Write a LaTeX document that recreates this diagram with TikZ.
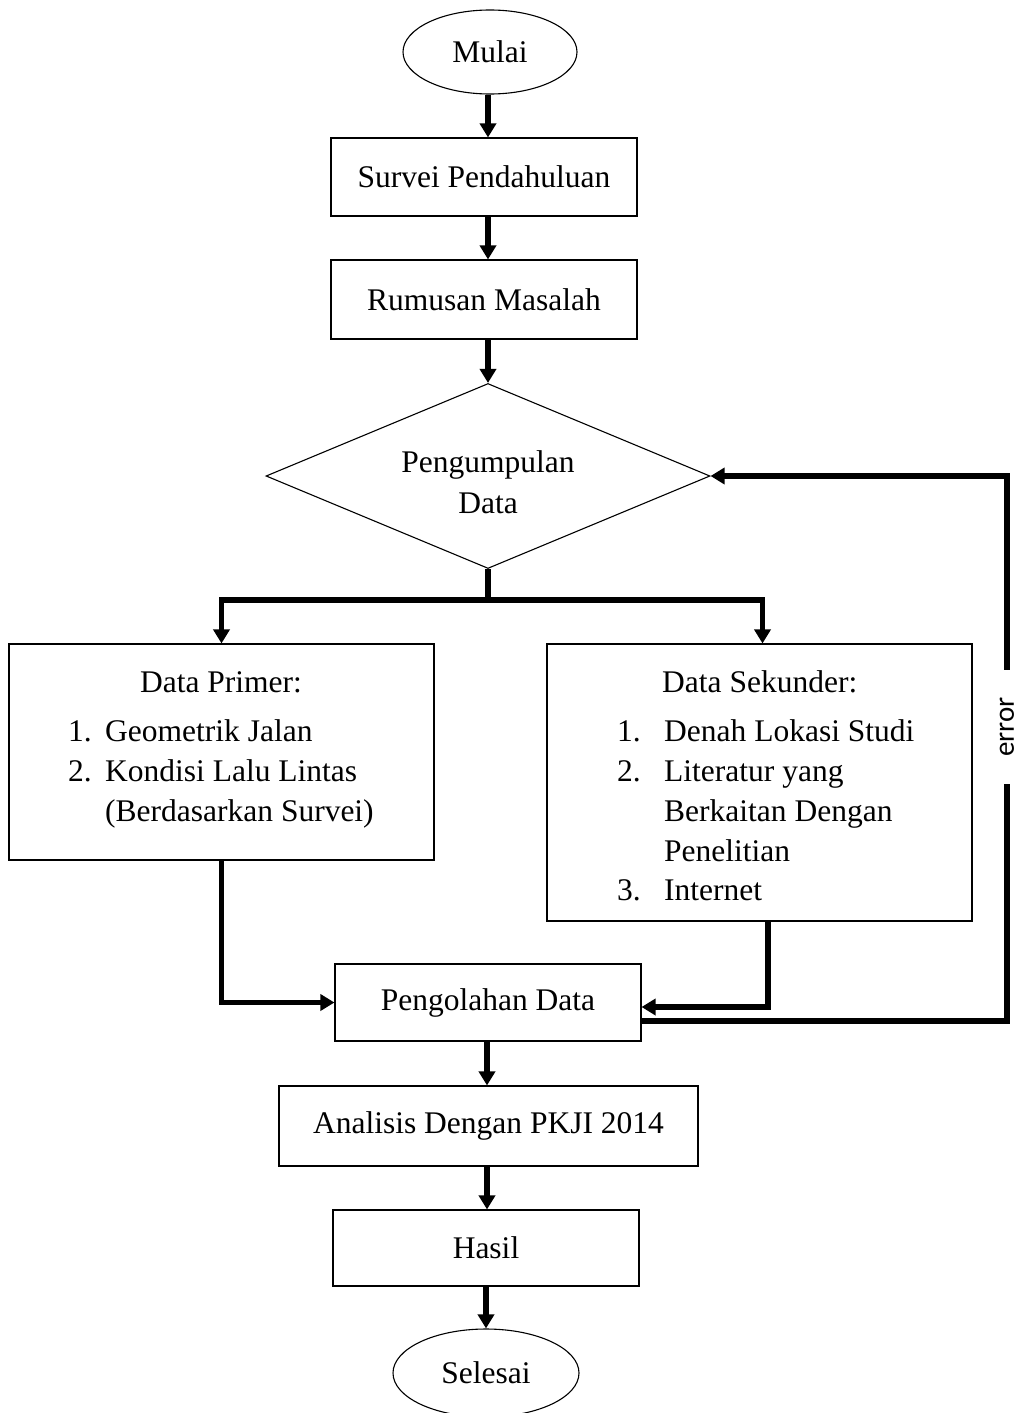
\documentclass[tikz,border=0pt]{standalone}
\usepackage{fontspec}
\setmainfont{Liberation Serif}
\newfontfamily\lblfont{Carlito}
\usetikzlibrary{shapes.geometric,arrows.meta}
\begin{document}
\begin{tikzpicture}[x=1pt,y=-1pt,
  txtfont/.style={font=\fontsize{31.5}{40.5}\selectfont},
  box/.style={draw=black, line width=1.1pt, rectangle, inner sep=0pt, txtfont},
  term/.style={draw=black, line width=1.1pt, ellipse, inner sep=0pt, txtfont},
  decision/.style={draw=black, line width=1.1pt, diamond, inner sep=0pt, align=center, txtfont},
  flow/.style={line width=5.2pt, -{Triangle[length=14pt,width=16pt]}},
  plainline/.style={line width=5.2pt},
  txt/.style={inner sep=0pt, txtfont},
]
\useasboundingbox (0,0) rectangle (1019,1413);

% shapes
\node[term, minimum width=174pt, minimum height=84pt] (mulai) at (490,52) {Mulai};
\node[box, minimum width=306pt, minimum height=78pt] (survei) at (484,177) {Survei Pendahuluan};
\node[box, minimum width=306pt, minimum height=79pt] (rumusan) at (484,299.5) {Rumusan Masalah};
\node[decision, minimum width=444pt, minimum height=185pt] (peng) at (488,476) {};
\node[txt, align=center] (pengtext) at (488,482) {Pengumpulan\\Data};
\node[box, minimum width=425pt, minimum height=216pt] (primer) at (221.5,752) {};
\node[box, minimum width=425pt, minimum height=277pt] (sekunder) at (759.5,782.5) {};
\node[box, minimum width=306pt, minimum height=77pt] (pengolahan) at (488,1002.5) {Pengolahan Data};
\node[box, minimum width=419pt, minimum height=80pt] (analisis) at (488.5,1126) {Analisis Dengan PKJI 2014};
\node[box, minimum width=306pt, minimum height=76pt] (hasil) at (486,1248) {Hasil};
\node[term, minimum width=186pt, minimum height=88pt] (selesai) at (486,1373) {Selesai};

% Data Primer text
\node[txt, anchor=base] (ptitle) at (221,692) {Data Primer:};
\node[txt, anchor=base west] (pn1) at (68,741) {1.};
\node[txt, anchor=base west] (pi1) at (105,741) {Geometrik Jalan};
\node[txt, anchor=base west] (pn2) at (68,781) {2.};
\node[txt, anchor=base west] (pi2) at (105,781) {Kondisi Lalu Lintas};
\node[txt, anchor=base west] (pi2b) at (105,821) {(Berdasarkan Survei)};

% Data Sekunder text
\node[txt, anchor=base west] (stitle) at (662,692) {Data Sekunder:};
\node[txt, anchor=base west] (sn1) at (617,741) {1.};
\node[txt, anchor=base west] (si1) at (664,741) {Denah Lokasi Studi};
\node[txt, anchor=base west] (sn2) at (617,781) {2.};
\node[txt, anchor=base west] (si2) at (664,781) {Literatur yang};
\node[txt, anchor=base west] (si2b) at (664,821) {Berkaitan Dengan};
\node[txt, anchor=base west] (si2c) at (664,861) {Penelitian};
\node[txt, anchor=base west] (sn3) at (617,900) {3.};
\node[txt, anchor=base west] (si3) at (664,900) {Internet};

% helper coordinates
\coordinate (ax) at (488,0);
\coordinate (ax2) at (487,0);
\coordinate (split) at (488,600);
\coordinate (loopx) at (1007,0);

% connectors
\draw[flow] (ax |- mulai.south) -- (ax |- survei.north);
\draw[flow] (ax |- survei.south) -- (ax |- rumusan.north);
\draw[flow] (ax |- rumusan.south) -- (peng.north);
\draw[plainline] (peng.south) -- (split);
\draw[flow] (split) -| (primer.north);
\draw[flow] (split) -| ([xshift=3pt]sekunder.north);
\draw[flow] (primer.south) |- (pengolahan.west);
\draw[flow] ([xshift=8.5pt]sekunder.south) |- ([yshift=-4.5pt]pengolahan.east);
\draw[flow] ([yshift=-18.5pt]pengolahan.east) -| (loopx |- peng.east) -- (peng.east);
\draw[flow] (ax2 |- pengolahan.south) -- (ax2 |- analisis.north);
\draw[flow] (ax2 |- analisis.south) -- (ax2 |- hasil.north);
\draw[flow] (selesai.north |- hasil.south) -- (selesai.north);

% error label
\node[fill=white, rotate=90, inner xsep=27pt, inner ysep=4pt, font=\lblfont\fontsize{29}{34}\selectfont] (err) at (1007,727) {error};
\end{tikzpicture}
\end{document}
